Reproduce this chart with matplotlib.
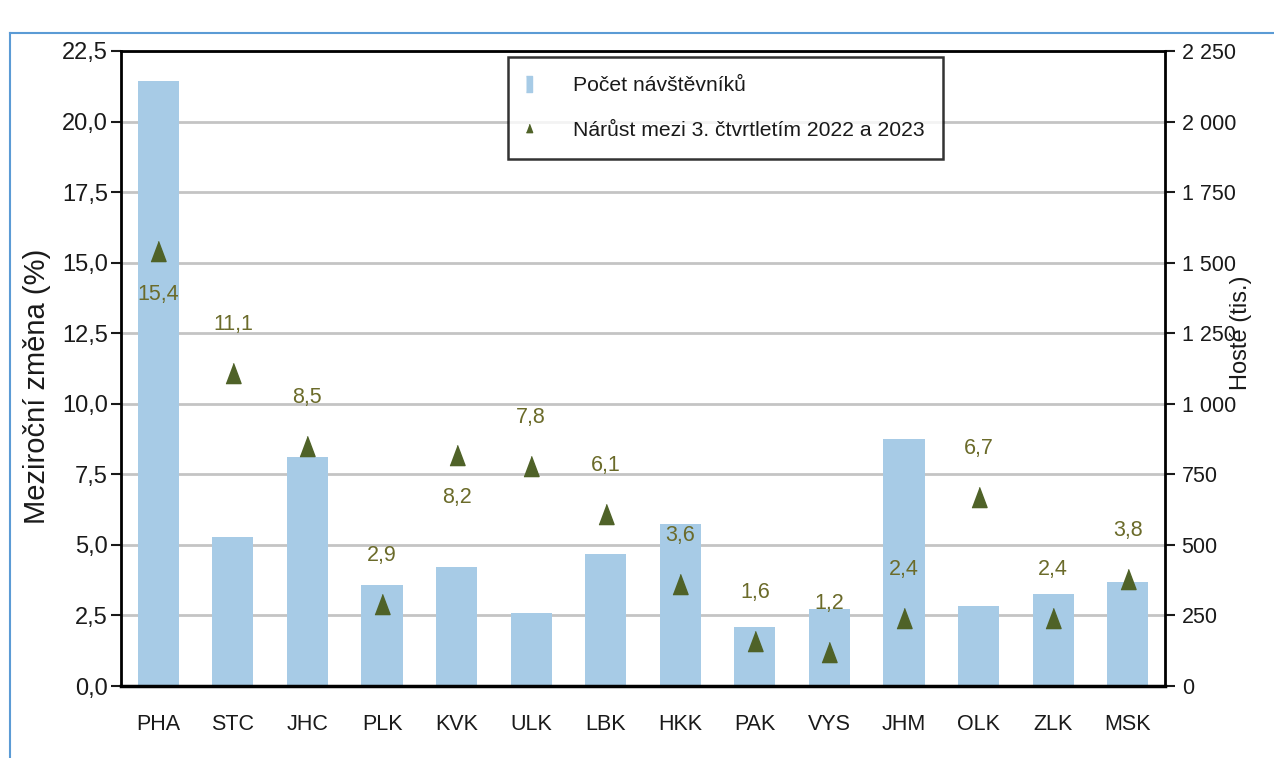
import matplotlib
matplotlib.use("Agg")
import matplotlib.pyplot as plt
from matplotlib import font_manager
from matplotlib.lines import Line2D
import numpy as np

# ---- data ----
regions = ["PHA", "STC", "JHC", "PLK", "KVK", "ULK", "LBK", "HKK", "PAK", "VYS", "JHM", "OLK", "ZLK", "MSK"]
guests_thousands = [2144, 528, 811, 358, 422, 259, 468, 574, 209, 273, 875, 283, 326, 369]
growth_pct = [15.4, 11.1, 8.5, 2.9, 8.2, 7.8, 6.1, 3.6, 1.6, 1.2, 2.4, 6.7, 2.4, 3.8]
label_below = [True, False, False, False, True, False, False, False, False, False, False, False, False, False]
left_ticks = [0, 2.5, 5, 7.5, 10, 12.5, 15, 17.5, 20, 22.5]
right_ticks = [0, 250, 500, 750, 1000, 1250, 1500, 1750, 2000, 2250]
legend_labels = ["Počet návštěvníků", "Nárůst mezi 3. čtvrtletím 2022 a 2023"]
left_label = "Meziroční změna (%)"
right_label = "Hosté (tis.)"

# ---- fonts ----
avail = {f.name for f in font_manager.fontManager.ttflist}
fam = [f for f in ["Liberation Sans Narrow", "Liberation Sans", "DejaVu Sans"] if f in avail]
plt.rcParams['font.family'] = fam

BAR = "#a7cbe6"
TRI = "#4f6228"
LAB = "#6b6b2a"
TXT = "#1a1a1a"
TRI_SHAPE = [(-0.75, -1), (0.75, -1), (0, 1)]

fig = plt.figure(figsize=(12.74, 7.58), dpi=100)
ax2 = fig.add_axes([121/1274, 1-686/758, (1165-121)/1274, (686-51)/758])
ax1 = ax2.twinx()
ax1.yaxis.tick_left(); ax1.yaxis.set_label_position("left")
ax2.yaxis.tick_right(); ax2.yaxis.set_label_position("right")
ax1.set_zorder(ax2.get_zorder() + 1)
ax1.patch.set_visible(False)

x = np.arange(len(regions))
ax2.bar(x, guests_thousands, width=0.55, color=BAR, zorder=2)
ax2.set_ylim(0, 2250)
ax2.set_yticks(right_ticks)
ax2.set_yticklabels([f"{v:,}".replace(",", " ") for v in right_ticks])
ax2.grid(axis='y', color='#c4c4c4', linewidth=2, zorder=0)
ax2.set_axisbelow(True)
ax2.set_xlim(-0.5, len(regions) - 0.5)
ax2.set_xticks(x)
ax2.set_xticklabels(regions)

ax1.plot(x, growth_pct, linestyle='none', marker=TRI_SHAPE, markersize=14.5, color=TRI)
ax1.set_ylim(0, 22.5)
ax1.set_yticks(left_ticks)
ax1.set_yticklabels([f"{v:.1f}".replace(".", ",") for v in left_ticks])
ax1.set_xlim(-0.5, len(regions) - 0.5)

for xi, v, below in zip(x, growth_pct, label_below):
    ax1.annotate(f"{v:.1f}".replace(".", ","), (xi, v),
                 xytext=(0, -31 if below else 35), textcoords='offset points',
                 ha='center', va='center', fontsize=15.5, color=LAB)

for ax in (ax1, ax2):
    for s in ax.spines.values():
        s.set_visible(False)
    ax.tick_params(axis='x', length=0, pad=20, labelsize=15.5, colors=TXT)
    ax.tick_params(axis='y', length=7, width=1.5, pad=2.5, labelsize=17, colors=TXT)
ax2.tick_params(axis='y', labelsize=15.5, pad=5)
ax1.spines['left'].set_visible(True); ax1.spines['left'].set_linewidth(2)
ax1.spines['right'].set_visible(True); ax1.spines['right'].set_linewidth(2)
ax1.spines['top'].set_visible(True); ax1.spines['top'].set_linewidth(2)
ax1.spines['bottom'].set_visible(True); ax1.spines['bottom'].set_linewidth(2.5)
ax1.tick_params(axis='x', labelbottom=False)

ax1.set_ylabel(left_label, fontsize=21, color=TXT)
ax1.yaxis.label.set_va('center')
ax1.yaxis.set_label_coords(-0.08, 0.472)
ax2.set_ylabel(right_label, fontsize=17, color=TXT)
ax2.yaxis.label.set_va('center')
ax2.yaxis.set_label_coords(1.073, 0.557)

handles = [
    Line2D([], [], linestyle='none', marker=[(-0.35, -1), (0.35, -1), (0.35, 1), (-0.35, 1)],
           markersize=12, color=BAR),
    Line2D([], [], linestyle='none', marker=TRI_SHAPE, markersize=6, color=TRI),
]
leg = ax1.legend(handles, legend_labels, loc='upper left', bbox_to_anchor=(0.371, 0.99),
                 borderaxespad=0, fontsize=15.2, frameon=True, fancybox=False,
                 edgecolor='black', labelspacing=1.2, handlelength=0.2, handletextpad=1.95,
                 borderpad=0.9)
leg.get_frame().set_linewidth(1.8)
for t in leg.get_texts():
    t.set_color(TXT)

# outer blue frame
fig.add_artist(Line2D([10/1274, 10/1274], [0, 1-33/758], color="#5b9bd5", linewidth=1.5))
fig.add_artist(Line2D([10/1274, 1], [1-33/758, 1-33/758], color="#5b9bd5", linewidth=1.5))

fig.savefig("out.png", dpi=100)
